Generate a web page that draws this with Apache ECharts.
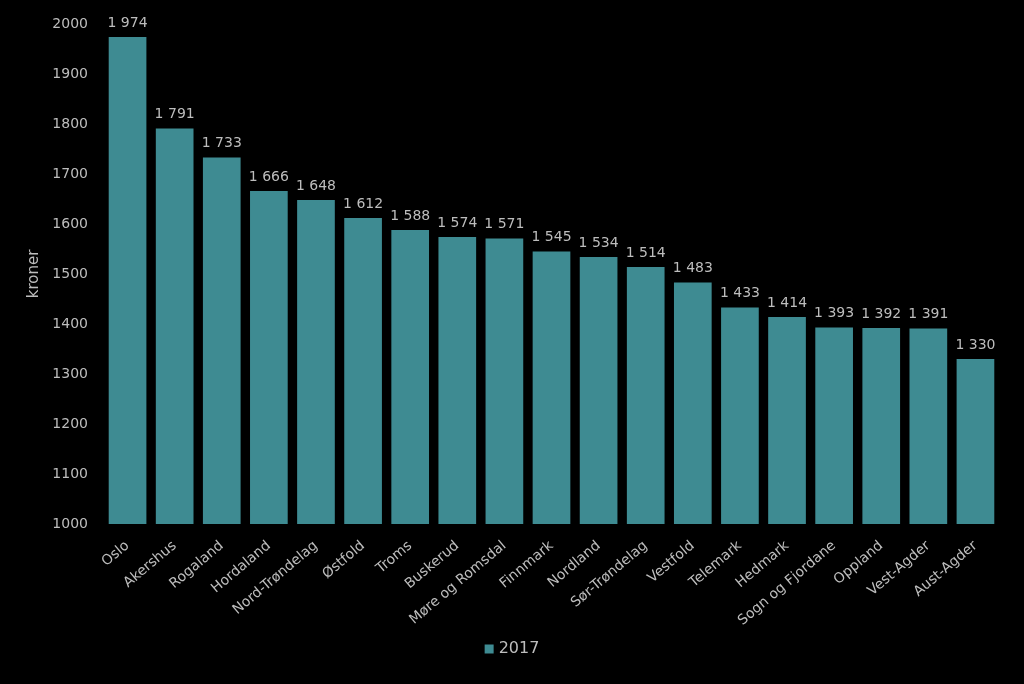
<!DOCTYPE html>
<html><head><meta charset="utf-8">
<script src="https://cdn.jsdelivr.net/npm/echarts@6/dist/echarts.min.js"></script>
<style>html,body{margin:0;padding:0;background:#000;}#c{width:1024px;height:684px;}</style>
</head><body><div id="c"></div>
<script>
const categories = ["Oslo","Akershus","Rogaland","Hordaland","Nord-Trøndelag","Østfold","Troms","Buskerud","Møre og Romsdal","Finnmark","Nordland","Sør-Trøndelag","Vestfold","Telemark","Hedmark","Sogn og Fjordane","Oppland","Vest-Agder","Aust-Agder"];
const values2017 = [1974,1791,1733,1666,1648,1612,1588,1574,1571,1545,1534,1514,1483,1433,1414,1393,1392,1391,1330];
const seriesName = "2017";
const yAxisName = "kroner";

const font = "DejaVu Sans";
const txt = "#BDBDBD";
const chart = echarts.init(document.getElementById('c'));
chart.setOption({
  backgroundColor: '#000',
  animation: false,
  textStyle: {fontFamily: font},
  grid: {left: 104, right: 25, top: 24, bottom: 160},
  legend: {
    bottom: 22, left: 'center',
    itemWidth: 9, itemHeight: 9, itemGap: 5,
    textStyle: {color: txt, fontSize: 16, fontFamily: font},
    data: [{name: seriesName, icon: 'rect'}]
  },
  xAxis: {
    type: 'category', data: categories,
    axisLine: {show: false}, axisTick: {show: false},
    axisLabel: {color: txt, fontSize: 14, rotate: 40, interval: 0, margin: 20, fontFamily: font}
  },
  yAxis: {
    type: 'value', min: 1000, max: 2000, interval: 100,
    name: yAxisName, nameLocation: 'middle', nameGap: 60, nameRotate: 90,
    nameTextStyle: {color: txt, fontSize: 15, fontFamily: font},
    axisLine: {show: false}, axisTick: {show: false}, splitLine: {show: false},
    axisLabel: {color: txt, fontSize: 14, margin: 16, fontFamily: font, formatter: v => String(v)}
  },
  series: [{
    name: seriesName, type: 'bar', data: values2017,
    barCategoryGap: '20%',
    itemStyle: {color: '#3E8B92'},
    label: {
      show: true, position: 'top', distance: 7, color: txt, fontSize: 14, fontFamily: font,
      formatter: p => String(p.value).replace(/\B(?=(\d{3})+(?!\d))/g, ' ')
    }
  }]
});
</script></body></html>
